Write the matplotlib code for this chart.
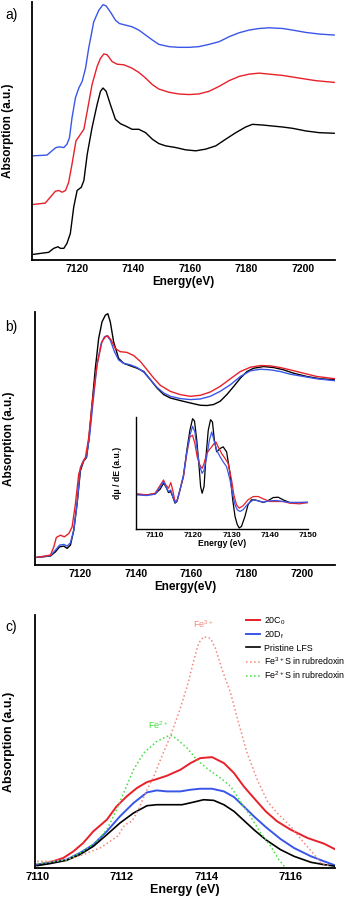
import numpy as np
import matplotlib
matplotlib.use("Agg")
import matplotlib.pyplot as plt

plt.rcParams['font.family'] = ['Liberation Sans', 'DejaVu Sans']
plt.rcParams['mathtext.default'] = 'regular'

RED = '#e8202a'
BLUE = '#3a56e8'
SALMON = '#f4877c'
GREEN = '#3ee03a'

# ---- a) XANES spectra, stacked ----
a_blk_e = [7104.6, 7109.9, 7111.7, 7113.2, 7114.1, 7115.3, 7116.4, 7117.6, 7118.8, 7120.0, 7121.5, 7122.4,
           7123.6, 7125.3, 7127.1, 7128.3, 7129.2, 7130.3, 7131.8, 7133.6, 7135.4, 7137.2, 7139.5, 7141.9,
           7144.3, 7146.7, 7149.0, 7151.4, 7155.0, 7158.5, 7162.1, 7165.6, 7169.2, 7172.7, 7176.3, 7179.8,
           7182.2, 7185.8, 7189.3, 7192.9, 7196.4, 7201.2, 7205.9, 7211.2]
a_blk_v = [0.057, 0.077, 0.117, 0.133, 0.117, 0.117, 0.167, 0.267, 0.533, 0.70, 0.733, 0.80,
           1.067, 1.333, 1.567, 1.70, 1.733, 1.70, 1.567, 1.417, 1.373, 1.35, 1.317, 1.317,
           1.283, 1.217, 1.173, 1.15, 1.133, 1.11, 1.10, 1.117, 1.15, 1.217, 1.283, 1.34,
           1.367, 1.36, 1.35, 1.34, 1.327, 1.30, 1.283, 1.277]

a_red_e = [7104.6, 7108.7, 7110.5, 7112.3, 7113.5, 7114.7, 7115.9, 7117.0, 7118.2, 7119.6, 7121.2, 7122.4,
           7123.6, 7125.3, 7127.1, 7128.3, 7129.5, 7130.7, 7132.4, 7134.2, 7136.6, 7139.5, 7141.9, 7144.3,
           7146.7, 7149.0, 7152.6, 7156.1, 7159.7, 7163.2, 7166.8, 7170.4, 7173.9, 7177.5, 7181.0, 7184.6,
           7188.1, 7192.9, 7198.8, 7204.7, 7211.2]
a_red_v = [0.56, 0.573, 0.633, 0.693, 0.70, 0.683, 0.70, 0.783, 0.967, 1.20, 1.267, 1.317,
           1.50, 1.767, 1.95, 2.033, 2.077, 2.067, 2.00, 1.973, 1.967, 1.933, 1.89, 1.833,
           1.767, 1.723, 1.69, 1.673, 1.667, 1.673, 1.70, 1.75, 1.807, 1.85, 1.873, 1.883,
           1.873, 1.86, 1.833, 1.807, 1.79]

a_blu_e = [7104.6, 7109.3, 7111.1, 7112.5, 7113.7, 7115.3, 7116.4, 7117.3, 7118.2, 7119.4, 7120.6, 7121.8,
           7123.0, 7124.1, 7125.9, 7127.7, 7129.2, 7130.3, 7131.8, 7133.6, 7135.0, 7137.2, 7139.5, 7141.9,
           7144.3, 7146.7, 7149.0, 7152.6, 7156.1, 7159.7, 7163.2, 7166.8, 7170.4, 7173.9, 7177.5, 7181.0,
           7184.6, 7188.1, 7192.9, 7196.4, 7201.2, 7205.9, 7211.2]
a_blu_v = [1.05, 1.057, 1.10, 1.133, 1.14, 1.133, 1.167, 1.233, 1.433, 1.633, 1.733, 1.80,
           1.933, 2.133, 2.40, 2.517, 2.573, 2.56, 2.50, 2.417, 2.383, 2.367, 2.35, 2.317,
           2.267, 2.217, 2.173, 2.15, 2.143, 2.143, 2.15, 2.173, 2.20, 2.25, 2.29, 2.317,
           2.333, 2.34, 2.333, 2.317, 2.293, 2.277, 2.267]

# ---- b) XANES overlaid ----
b_blk_e = [7104.4, 7109.2, 7111.0, 7112.5, 7114.0, 7115.2, 7116.4, 7117.6, 7118.8, 7120.0, 7121.2, 7122.2,
           7123.0, 7124.2, 7125.4, 7126.6, 7127.8, 7129.0, 7129.9, 7130.8, 7132.0, 7133.8, 7135.6, 7138.1,
           7140.5, 7142.9, 7145.3, 7147.7, 7150.1, 7152.5, 7156.1, 7159.7, 7163.3, 7165.7, 7168.1, 7170.5,
           7172.9, 7175.4, 7177.8, 7180.2, 7182.6, 7186.2, 7189.8, 7193.4, 7197.0, 7201.8, 7206.6, 7212.0]
b_blk_v = [0.077, 0.09, 0.133, 0.183, 0.19, 0.167, 0.20, 0.35, 0.617, 0.95, 1.05, 1.083,
           1.25, 1.617, 1.983, 2.283, 2.45, 2.517, 2.533, 2.45, 2.25, 2.083, 2.033, 2.007,
           1.983, 1.95, 1.867, 1.783, 1.717, 1.683, 1.657, 1.633, 1.61, 1.607, 1.617, 1.65,
           1.717, 1.80, 1.883, 1.95, 1.983, 2.00, 1.99, 1.967, 1.933, 1.90, 1.877, 1.867]

b_red_e = [7104.4, 7109.2, 7110.4, 7111.3, 7112.8, 7114.2, 7115.8, 7117.0, 7118.2, 7119.4, 7120.6, 7121.8,
           7123.0, 7124.2, 7126.0, 7127.8, 7129.0, 7129.9, 7131.1, 7132.6, 7134.4, 7136.8, 7139.3, 7141.7,
           7144.1, 7146.5, 7148.9, 7152.5, 7156.1, 7159.7, 7163.3, 7166.9, 7170.5, 7174.2, 7177.8, 7181.4,
           7185.0, 7188.6, 7192.2, 7195.8, 7200.6, 7205.4, 7212.0]
b_red_v = [0.077, 0.10, 0.183, 0.277, 0.30, 0.283, 0.317, 0.383, 0.617, 0.917, 1.017, 1.083,
           1.283, 1.617, 2.017, 2.25, 2.30, 2.31, 2.267, 2.183, 2.15, 2.143, 2.11, 2.05,
           1.967, 1.883, 1.81, 1.75, 1.717, 1.70, 1.71, 1.743, 1.80, 1.877, 1.95, 1.993,
           2.01, 2.007, 1.99, 1.967, 1.933, 1.90, 1.877]

b_blu_e = [7104.4, 7109.2, 7111.0, 7112.5, 7114.0, 7115.2, 7116.4, 7117.6, 7118.8, 7120.0, 7121.2, 7122.2,
           7123.4, 7124.6, 7126.0, 7127.5, 7128.7, 7129.6, 7130.8, 7132.3, 7133.8, 7135.6, 7138.1, 7140.5,
           7142.9, 7145.3, 7147.7, 7150.1, 7152.5, 7156.1, 7159.7, 7163.3, 7166.9, 7170.5, 7174.2, 7177.8,
           7181.4, 7185.0, 7188.6, 7192.2, 7195.8, 7200.6, 7205.4, 7212.0]
b_blu_v = [0.077, 0.093, 0.15, 0.20, 0.207, 0.19, 0.223, 0.35, 0.617, 0.983, 1.057, 1.09,
           1.317, 1.65, 2.017, 2.233, 2.30, 2.31, 2.267, 2.15, 2.067, 2.033, 2.017, 1.99,
           1.943, 1.867, 1.79, 1.733, 1.70, 1.677, 1.667, 1.673, 1.70, 1.75, 1.817, 1.90,
           1.957, 1.973, 1.967, 1.95, 1.923, 1.90, 1.877, 1.857]

# ---- b) inset: derivative ----
d_blk_e = [7105.2, 7107.8, 7110.0, 7111.3, 7112.2, 7112.8, 7113.5, 7114.1, 7114.6, 7115.2, 7115.7, 7116.5,
           7117.4, 7118.3, 7119.1, 7119.8, 7120.3, 7120.9, 7121.5, 7121.9, 7122.3, 7122.8, 7123.3, 7123.9,
           7124.5, 7125.0, 7125.5, 7126.1, 7127.0, 7127.8, 7128.7, 7129.6, 7130.3, 7130.9, 7131.5, 7132.0,
           7132.6, 7133.5, 7134.3, 7135.2, 7136.1, 7137.0, 7138.3, 7139.6, 7140.9, 7142.2, 7143.5, 7145.2,
           7147.8, 7150.0]
d_blk_v = [1.05, 1.03, 1.06, 1.20, 1.38, 1.28, 1.10, 1.13, 0.98, 0.78, 0.83, 1.18,
           1.58, 2.38, 2.98, 3.33, 3.26, 2.68, 1.88, 1.28, 1.08, 1.28, 2.18, 2.98,
           3.30, 3.23, 2.68, 2.33, 2.43, 2.48, 2.33, 1.68, 0.88, 0.38, 0.13, 0.03,
           0.08, 0.38, 0.73, 0.88, 0.88, 0.85, 0.80, 0.86, 0.95, 0.96, 0.88, 0.80,
           0.80, 0.80]

d_red_e = [7105.2, 7107.8, 7110.0, 7111.1, 7112.2, 7112.8, 7113.5, 7114.1, 7114.6, 7115.2, 7115.8, 7116.5,
           7117.4, 7118.3, 7119.1, 7119.8, 7120.4, 7121.0, 7121.7, 7122.3, 7122.8, 7123.5, 7124.2, 7124.8,
           7125.4, 7125.9, 7126.5, 7127.4, 7128.3, 7129.1, 7130.0, 7130.6, 7131.3, 7132.0, 7133.0, 7134.3,
           7135.7, 7137.0, 7138.3, 7140.0, 7141.7, 7143.5, 7145.2, 7147.8, 7150.0]
d_red_v = [1.06, 1.03, 1.08, 1.28, 1.48, 1.33, 1.23, 1.40, 1.18, 0.83, 0.88, 1.18,
           1.58, 2.28, 2.78, 2.83, 2.58, 2.18, 1.93, 1.83, 1.98, 2.28, 2.40, 2.48,
           2.58, 2.63, 2.48, 2.28, 2.13, 1.98, 1.48, 1.03, 0.73, 0.63, 0.70, 0.88,
           0.98, 0.98, 0.91, 0.83, 0.83, 0.83, 0.78, 0.76, 0.80]

d_blu_e = [7105.2, 7107.8, 7110.0, 7111.1, 7112.2, 7112.8, 7113.5, 7114.1, 7114.6, 7115.2, 7115.8, 7116.5,
           7117.4, 7118.3, 7119.1, 7119.8, 7120.4, 7121.0, 7121.7, 7122.3, 7122.8, 7123.5, 7124.2, 7124.8,
           7125.4, 7126.1, 7127.0, 7127.8, 7128.7, 7129.6, 7130.3, 7130.9, 7131.5, 7132.2, 7133.0, 7134.3,
           7135.7, 7137.0, 7138.3, 7140.0, 7141.7, 7143.5, 7145.2, 7147.8, 7150.0]
d_blu_v = [1.03, 1.01, 1.05, 1.23, 1.43, 1.28, 1.13, 1.18, 0.98, 0.80, 0.86, 1.18,
           1.63, 2.33, 2.83, 3.10, 2.93, 2.38, 1.88, 1.68, 1.78, 2.18, 2.68, 2.93,
           2.68, 2.38, 2.18, 2.03, 1.88, 1.48, 1.03, 0.73, 0.58, 0.53, 0.58, 0.76,
           0.88, 0.85, 0.81, 0.85, 0.86, 0.83, 0.80, 0.80, 0.81]

# ---- c) pre-edge ----
c_red_e = [7110.00, 7110.30, 7110.62, 7110.86, 7111.09, 7111.33, 7111.65, 7111.88, 7112.12, 7112.36, 7112.60,
           7112.83, 7113.07, 7113.39, 7113.63, 7113.86, 7114.14, 7114.42, 7114.66, 7114.89, 7115.13, 7115.41,
           7115.68, 7116.00, 7116.40, 7116.79, 7117.07]
c_red_v = [0.02, 0.034, 0.06, 0.10, 0.15, 0.22, 0.29, 0.37, 0.43, 0.48, 0.516,
           0.534, 0.554, 0.59, 0.63, 0.66, 0.666, 0.63, 0.57, 0.49, 0.42, 0.34,
           0.28, 0.23, 0.18, 0.146, 0.11]

c_blu_e = [7110.00, 7110.30, 7110.70, 7111.01, 7111.33, 7111.65, 7111.96, 7112.28, 7112.60, 7112.83, 7113.07,
           7113.39, 7113.63, 7113.86, 7114.14, 7114.42, 7114.66, 7114.89, 7115.13, 7115.41, 7115.76, 7116.08,
           7116.48, 7116.79, 7117.07]
c_blu_v = [0.02, 0.03, 0.05, 0.09, 0.14, 0.22, 0.31, 0.39, 0.454, 0.466, 0.46,
           0.46, 0.47, 0.476, 0.476, 0.46, 0.426, 0.37, 0.31, 0.246, 0.174, 0.12,
           0.07, 0.04, 0.014]

c_blk_e = [7110.00, 7110.30, 7110.70, 7111.01, 7111.33, 7111.65, 7111.96, 7112.28, 7112.60, 7112.83, 7113.15,
           7113.43, 7113.71, 7113.94, 7114.18, 7114.42, 7114.66, 7114.89, 7115.13, 7115.41, 7115.76, 7116.08,
           7116.48, 7116.79, 7117.07]
c_blk_v = [0.014, 0.026, 0.046, 0.08, 0.13, 0.20, 0.27, 0.33, 0.374, 0.38, 0.38,
           0.38, 0.396, 0.41, 0.406, 0.38, 0.34, 0.286, 0.23, 0.17, 0.11, 0.07,
           0.034, 0.02, 0.01]

c_fe3_e = [7110.00, 7110.30, 7110.70, 7111.09, 7111.49, 7111.73, 7111.92, 7112.00, 7112.08, 7112.24, 7112.40,
           7112.56, 7112.76, 7112.95, 7113.15, 7113.35, 7113.55, 7113.71, 7113.82, 7113.94, 7114.10, 7114.22,
           7114.38, 7114.58, 7114.77, 7114.97, 7115.21, 7115.45, 7115.68, 7116.00, 7116.32, 7116.56, 7116.71,
           7116.95]
c_fe3_v = [0.04, 0.04, 0.05, 0.08, 0.12, 0.16, 0.194, 0.23, 0.26, 0.28, 0.35,
           0.45, 0.55, 0.67, 0.79, 0.93, 1.09, 1.25, 1.35, 1.39, 1.38, 1.32,
           1.19, 1.05, 0.87, 0.69, 0.53, 0.40, 0.33, 0.25, 0.15, 0.08, 0.03,
           0.01]

c_fe2_e = [7110.00, 7110.30, 7110.70, 7111.09, 7111.41, 7111.65, 7111.88, 7112.08, 7112.28, 7112.52, 7112.83,
           7113.07, 7113.19, 7113.31, 7113.55, 7113.78, 7114.06, 7114.34, 7114.58, 7114.81, 7115.05, 7115.29,
           7115.53, 7115.72, 7115.88]
c_fe2_v = [0.026, 0.034, 0.05, 0.10, 0.16, 0.23, 0.35, 0.47, 0.59, 0.69, 0.76,
           0.79, 0.796, 0.774, 0.72, 0.65, 0.59, 0.54, 0.49, 0.40, 0.31, 0.21,
           0.13, 0.05, 0.0]


def style_axes(ax, xticks, xlabel, ylabel, fs_tick=7.5, fs_lab=8.5, lw=1.3):
    for s in ['top', 'right']:
        ax.spines[s].set_visible(False)
    for s in ['left', 'bottom']:
        ax.spines[s].set_linewidth(lw)
    ax.set_yticks([])
    ax.set_xticks(xticks)
    ax.tick_params(axis='x', length=0, pad=3)
    for t in ax.get_xticklabels():
        t.set_fontsize(fs_tick)
        t.set_fontweight('bold')
    ax.set_xlabel(xlabel, fontsize=fs_lab, fontweight='bold', labelpad=1)
    ax.set_ylabel(ylabel, fontsize=fs_lab, fontweight='bold', labelpad=1)


fig = plt.figure(figsize=(3.54, 9.08), dpi=100)

# a)
ax1 = fig.add_axes([0.0904, 0.7137, 0.856, 0.2841])
ax1.plot(a_blk_e, a_blk_v, color='black', lw=1.0)
ax1.plot(a_red_e, a_red_v, color=RED, lw=1.0)
ax1.plot(a_blu_e, a_blu_v, color=BLUE, lw=1.0)
ax1.set_xlim(7104, 7211.5)
ax1.set_ylim(0, 2.6)
style_axes(ax1, [7120, 7140, 7160, 7180, 7200], 'Energy(eV)', 'Absorption (a.u.)')
ax1.yaxis.set_label_coords(-0.06, 0.5)

# b)
ax2 = fig.add_axes([0.0989, 0.3778, 0.8475, 0.2786])
ax2.plot(b_blk_e, b_blk_v, color='black', lw=1.0)
ax2.plot(b_blu_e, b_blu_v, color=BLUE, lw=1.0)
ax2.plot(b_red_e, b_red_v, color=RED, lw=1.0)
ax2.set_xlim(7103.6, 7212)
ax2.set_ylim(0, 2.55)
style_axes(ax2, [7120, 7140, 7160, 7180, 7200], 'Energy(eV)', 'Absorption (a.u.)')
ax2.yaxis.set_label_coords(-0.067, 0.5)

# inset
ax3 = fig.add_axes([0.3842, 0.4174, 0.4859, 0.1233])
ax3.plot(d_blk_e, d_blk_v, color='black', lw=0.9)
ax3.plot(d_red_e, d_red_v, color=RED, lw=0.9)
ax3.plot(d_blu_e, d_blu_v, color=BLUE, lw=0.9)
ax3.set_xlim(7105, 7150)
ax3.set_ylim(0, 3.38)
style_axes(ax3, [7110, 7120, 7130, 7140, 7150], 'Energy (eV)', 'd\u03bc / dE (a.u.)',
           fs_tick=6, fs_lab=6.2, lw=1.0)
ax3.tick_params(axis='x', pad=2)
ax3.xaxis.labelpad = 0
ax3.yaxis.set_label_coords(-0.08, 0.5)

# c)
ax4 = fig.add_axes([0.0989, 0.0441, 0.8475, 0.2786])
ax4.plot(c_red_e, c_red_v, color=RED, lw=1.4, label='20C$_0$')
ax4.plot(c_blu_e, c_blu_v, color=BLUE, lw=1.4, label='20D$_f$')
ax4.plot(c_blk_e, c_blk_v, color='black', lw=1.2, label='Pristine LFS')
ax4.plot(c_fe3_e, c_fe3_v, color=SALMON, lw=1.1, ls=':', label='Fe$^{3+}$S in rubredoxin')
ax4.plot(c_fe2_e, c_fe2_v, color=GREEN, lw=1.1, ls=':', label='Fe$^{2+}$S in rubredoxin')
ax4.set_xlim(7109.95, 7117.05)
ax4.set_ylim(0, 1.52)
style_axes(ax4, [7110, 7112, 7114, 7116], 'Energy (eV)', 'Absorption (a.u.)', fs_tick=8, fs_lab=9)
ax4.yaxis.set_label_coords(-0.067, 0.5)
ax4.text(7113.94, 1.43, 'Fe$^{3+}$', color=SALMON, fontsize=6.5, ha='center', va='bottom')
ax4.text(7112.87, 0.82, 'Fe$^{2+}$', color=GREEN, fontsize=6.5, ha='center', va='bottom')
ax4.legend(loc='upper left', bbox_to_anchor=(0.685, 1.02), frameon=False, fontsize=6.4,
           handlelength=1.6, handletextpad=0.45, labelspacing=0.3, borderaxespad=0.2)

fig.text(0.014, 0.984, 'a)', fontsize=10, va='center')
fig.text(0.014, 0.640, 'b)', fontsize=10, va='center')
fig.text(0.014, 0.309, 'c)', fontsize=10, va='center')

fig.savefig('out.png', dpi=100)
